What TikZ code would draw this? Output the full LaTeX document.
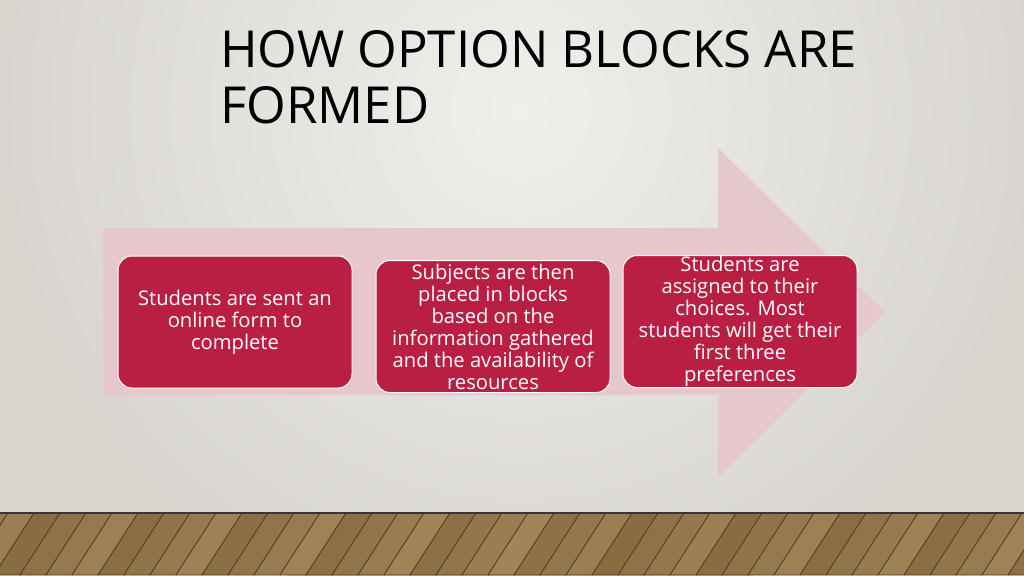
\documentclass[tikz,border=0pt]{standalone}
\usepackage{fontspec}
\setmainfont{Open Sans}
\usetikzlibrary{positioning}

\definecolor{wallout}{HTML}{D8D5CF}
\definecolor{wallin}{HTML}{F0EFEC}
\definecolor{arrowpink}{HTML}{E6C7CB}
\definecolor{boxred}{HTML}{B91E43}
\definecolor{woodbase}{HTML}{86683F}
\definecolor{woodlight}{HTML}{B89B6E}
\definecolor{wooddark}{HTML}{4E3A22}
\definecolor{skirting}{HTML}{3A3530}

\tikzset{
  stepbox/.style={rounded corners=14pt, fill=boxred, draw=white, line width=1pt,
    minimum width=234pt, minimum height=132pt, align=center,
    text=white, font=\fontsize{20.2pt}{22pt}\selectfont},
  titletext/.style={anchor=base west, align=left, text=black,
    font=\fontsize{51pt}{55pt}\selectfont},
}

\begin{document}
\begin{tikzpicture}
[every node/.style={inner sep=0pt}]
\useasboundingbox (0pt, 0pt) rectangle (1024pt, -575pt);
% wall
\fill [wallout] (0pt, 0pt) rectangle (1024pt, -575pt);
\shade [inner color=wallin, outer color=wallout] (520pt, -110pt) circle (520pt);
% floor
\foreach \i in {0,...,44} {
  \pgfmathsetmacro{\xa}{-70+26*\i}
  \pgfmathtruncatemacro{\p}{45+mod(\i*37,50)}
  \fill [woodbase!\p!woodlight, draw=wooddark, line width=0.7pt]
    (\xa pt, -513pt) -- (\xa pt+26pt, -513pt) -- (\xa pt-14pt, -575pt) -- (\xa pt-40pt, -575pt) -- cycle;
}
\draw [skirting, line width=2pt] (0pt, -513pt) -- (1024pt, -513pt);
% big arrow
\fill [arrowpink] (103pt, -228pt) -- (718pt, -228pt) -- (718pt, -148pt) -- (885pt, -312pt)
  -- (718pt, -478pt) -- (718pt, -395pt) -- (103pt, -395pt) -- cycle;
% title (base = last line)
\node (title) [titletext] at (220pt, -123pt) {HOW OPTION BLOCKS ARE\\FORMED};
% steps
\node (form) [stepbox] at (235pt, -322pt) {Students are sent an\\online form to\\complete};
\node (blocks) [stepbox] at (493pt, -326.5pt) {Subjects are then\\placed in blocks\\based on the\\information gathered\\and the availability of\\resources};
\node (assign) [stepbox] at (740pt, -321.5pt) {Students are\\assigned to their\\choices. Most\\students will get their\\first three\\preferences};
\end{tikzpicture}
\end{document}
